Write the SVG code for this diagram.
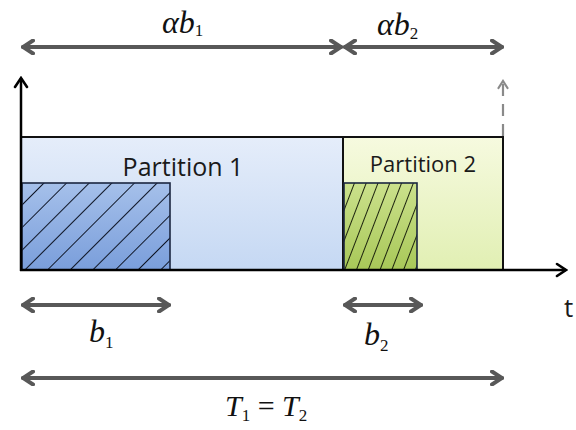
<svg xmlns="http://www.w3.org/2000/svg" width="576" height="430" viewBox="0 0 576 430">
<style>
.dim{stroke:#585858;stroke-width:4;fill:none;stroke-linecap:round}
.axis{stroke:#000;stroke-width:2.5;fill:none}
.box{stroke:#111;stroke-width:2}
.hbox{stroke:#1b2640;stroke-width:1.6}
.lbl{font-family:"Open Sans","Liberation Sans",sans-serif;fill:#1a1a1a}
.math{font-family:"Liberation Serif","Times New Roman",serif;font-style:italic;fill:#111}
.sub{font-family:"Liberation Serif","Times New Roman",serif;font-style:normal;fill:#111}
</style>
<defs>
<marker id="chev" viewBox="-12 -8 14 16" markerWidth="14" markerHeight="16" refX="0" refY="0" orient="auto-start-reverse" markerUnits="userSpaceOnUse">
<path d="M-10,-6.5 L0,0 L-10,6.5" fill="none" stroke="#585858" stroke-width="4" stroke-linecap="round" stroke-linejoin="miter"/>
</marker>
<marker id="blk" viewBox="-12 -8 14 16" markerWidth="14" markerHeight="16" refX="0" refY="0" orient="auto" markerUnits="userSpaceOnUse">
<path d="M-9,-6 L0,0 L-9,6" fill="none" stroke="#000" stroke-width="2.6" stroke-linecap="round"/>
</marker>
<marker id="gry" viewBox="-10 -7 12 14" markerWidth="12" markerHeight="14" refX="0" refY="0" orient="auto" markerUnits="userSpaceOnUse">
<path d="M-7,-4.5 L0,0 L-7,4.5" fill="none" stroke="#8a8a8a" stroke-width="2.2" stroke-linecap="round"/>
</marker>
<linearGradient id="g1" x1="0" y1="0" x2="0" y2="1">
<stop offset="0" stop-color="#e5edfa"/><stop offset="1" stop-color="#c5d8f3"/>
</linearGradient>
<linearGradient id="g2" x1="0" y1="0" x2="0" y2="1">
<stop offset="0" stop-color="#f6fadf"/><stop offset="1" stop-color="#e1efb3"/>
</linearGradient>
<linearGradient id="h1" x1="0" y1="0" x2="0" y2="1">
<stop offset="0" stop-color="#a5c0ea"/><stop offset="1" stop-color="#7a9edb"/>
</linearGradient>
<linearGradient id="h2" x1="0" y1="0" x2="0" y2="1">
<stop offset="0" stop-color="#cbe18c"/><stop offset="1" stop-color="#a8c858"/>
</linearGradient>
<pattern id="p1" patternUnits="userSpaceOnUse" width="16" height="16" patternTransform="rotate(45)">
<line x1="0" y1="0" x2="0" y2="16" stroke="#0f1626" stroke-width="2"/>
</pattern>
<pattern id="p2" patternUnits="userSpaceOnUse" width="11" height="11" patternTransform="rotate(21)">
<line x1="0" y1="0" x2="0" y2="11" stroke="#141a08" stroke-width="1.9"/>
</pattern>
</defs>

<g id="partition1">
<rect x="21" y="137" width="322" height="133" fill="url(#g1)" class="box"/>
<text x="183" y="176" font-size="25" text-anchor="middle" class="lbl">Partition 1</text>
</g>
<g id="partition2">
<rect x="343" y="137" width="160" height="133" fill="url(#g2)" class="box"/>
<text x="423" y="172" font-size="22" text-anchor="middle" class="lbl">Partition 2</text>
</g>
<g id="burst1">
<rect x="22" y="183" width="148" height="87" fill="url(#h1)"/>
<rect x="22" y="183" width="148" height="87" fill="url(#p1)" class="hbox"/>
</g>
<g id="burst2">
<rect x="344" y="183" width="73" height="87" fill="url(#h2)"/>
<rect x="344" y="183" width="73" height="87" fill="url(#p2)" class="hbox"/>
</g>

<g id="connectors">
<line x1="21" y1="271" x2="21" y2="78" class="axis" marker-end="url(#blk)"/>
<line x1="20" y1="270" x2="566" y2="270" class="axis" marker-end="url(#blk)"/>
<line x1="503" y1="136" x2="503" y2="81" stroke="#8a8a8a" stroke-width="2.2" stroke-dasharray="12,8" marker-end="url(#gry)"/>
<line x1="23" y1="47" x2="341" y2="47" class="dim" marker-start="url(#chev)" marker-end="url(#chev)"/>
<line x1="345" y1="47" x2="502" y2="47" class="dim" marker-start="url(#chev)" marker-end="url(#chev)"/>
<line x1="23" y1="305" x2="169" y2="305" class="dim" marker-start="url(#chev)" marker-end="url(#chev)"/>
<line x1="345" y1="305" x2="421" y2="305" class="dim" marker-start="url(#chev)" marker-end="url(#chev)"/>
<line x1="23" y1="378" x2="502" y2="378" class="dim" marker-start="url(#chev)" marker-end="url(#chev)"/>
</g>

<g id="labels">
<text x="162" y="33" font-size="32" class="math">αb<tspan class="sub" font-size="17" dy="3">1</tspan></text>
<text x="377" y="35" font-size="32" class="math">αb<tspan class="sub" font-size="17" dy="4">2</tspan></text>
<text x="89" y="342" font-size="32" class="math">b<tspan class="sub" font-size="17" dy="6">1</tspan></text>
<text x="364" y="345" font-size="32" class="math">b<tspan class="sub" font-size="17" dy="6">2</tspan></text>
<text x="225" y="416" font-size="30" class="math">T<tspan class="sub" font-size="17" dy="5">1</tspan><tspan class="sub" font-size="30" dy="-5"> = </tspan>T<tspan class="sub" font-size="17" dy="5">2</tspan></text>
<text x="564" y="317" font-size="26" class="lbl">t</text>
</g>
</svg>
